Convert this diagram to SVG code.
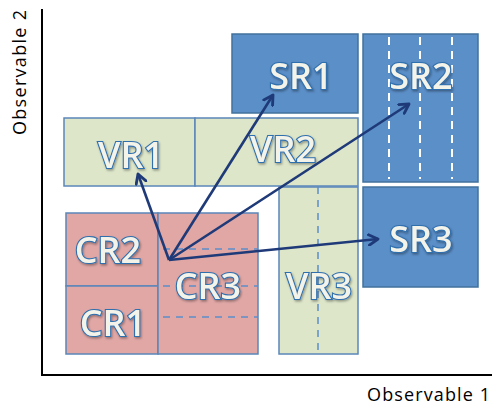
<svg xmlns="http://www.w3.org/2000/svg" width="495" height="407" viewBox="0 0 495 407">
<defs>
<style>
.sr{fill:#5b8fc8;stroke:#41719c;stroke-width:1.5}
.vr{fill:#dde6c9;stroke:#5b87b9;stroke-width:1.5}
.cr{fill:#e0a7a5;stroke:#5b87b9;stroke-width:1.5}
.wd{stroke:#ffffff;stroke-width:2;stroke-dasharray:8,6;fill:none}
.bd{stroke:#5b8fc8;stroke-width:1.5;stroke-dasharray:7,6;fill:none}
.lbl{font-family:"Open Sans","Liberation Sans",sans-serif;font-size:36px;font-weight:600;fill:#f4f3ea;stroke:#2f6fae;stroke-width:2.2;paint-order:stroke;text-anchor:middle;filter:url(#sh)}
.ax{font-family:"Open Sans","Liberation Sans",sans-serif;font-size:18px;fill:#000}
.arr{stroke:#1f3a78;stroke-width:2.6;fill:none;marker-end:url(#ah)}
</style>
<filter id="sh" x="-20%" y="-20%" width="150%" height="150%">
<feDropShadow dx="1" dy="1.5" stdDeviation="0.8" flood-color="#000" flood-opacity="0.35"/>
</filter>
<marker id="ah" viewBox="0 0 10 10" refX="8" refY="5" markerWidth="5" markerHeight="5" orient="auto" markerUnits="strokeWidth">
<path d="M1,1 L8,5 L1,9" fill="none" stroke="#1f3a78" stroke-width="2.2" stroke-linecap="round" stroke-linejoin="round"/>
</marker>
</defs>
<rect width="495" height="407" fill="#ffffff"/>
<g id="axes">
<path d="M42,9 V375 H492" fill="none" stroke="#000" stroke-width="2"/>
<text class="ax" x="367" y="401" textLength="123">Observable 1</text>
<text class="ax" transform="translate(26,135) rotate(-90)" x="0" y="0" textLength="125">Observable 2</text>
</g>
<g id="SR1"><rect class="sr" x="232" y="34" width="126" height="79"/><text class="lbl" x="301" y="89">SR1</text></g>
<g id="SR2"><rect class="sr" x="363" y="34" width="115" height="148"/>
<path class="wd" d="M389,37 V179 M420,37 V179 M452,37 V179"/>
<text class="lbl" x="421" y="89">SR2</text></g>
<g id="SR3"><rect class="sr" x="363" y="187" width="115" height="100"/><text class="lbl" x="421" y="252">SR3</text></g>
<g id="VR1"><rect class="vr" x="64" y="118" width="131" height="68"/><text class="lbl" x="131" y="168">VR1</text></g>
<g id="VR2"><rect class="vr" x="195" y="118" width="163" height="68"/><text class="lbl" x="283" y="162">VR2</text></g>
<g id="VR3"><rect class="vr" x="279" y="187" width="79" height="167"/>
<path class="bd" d="M318,187 V354"/>
<text class="lbl" x="319" y="299">VR3</text></g>
<g id="CR2"><rect class="cr" x="66" y="213" width="92" height="73"/><text class="lbl" x="108" y="263">CR2</text></g>
<g id="CR1"><rect class="cr" x="66" y="286" width="92" height="68"/><text class="lbl" x="113" y="336">CR1</text></g>
<g id="CR3"><rect class="cr" x="158" y="213" width="100" height="141"/>
<path class="bd" d="M163,249 H258 M163,286 H258 M163,317 H258"/>
<text class="lbl" x="208" y="299">CR3</text></g>
<g id="connectors">
<line class="arr" x1="169" y1="260" x2="138" y2="174"/>
<line class="arr" x1="169" y1="260" x2="273" y2="95"/>
<line class="arr" x1="169" y1="260" x2="409" y2="104"/>
<line class="arr" x1="169" y1="260" x2="378" y2="239"/>
</g>
</svg>
